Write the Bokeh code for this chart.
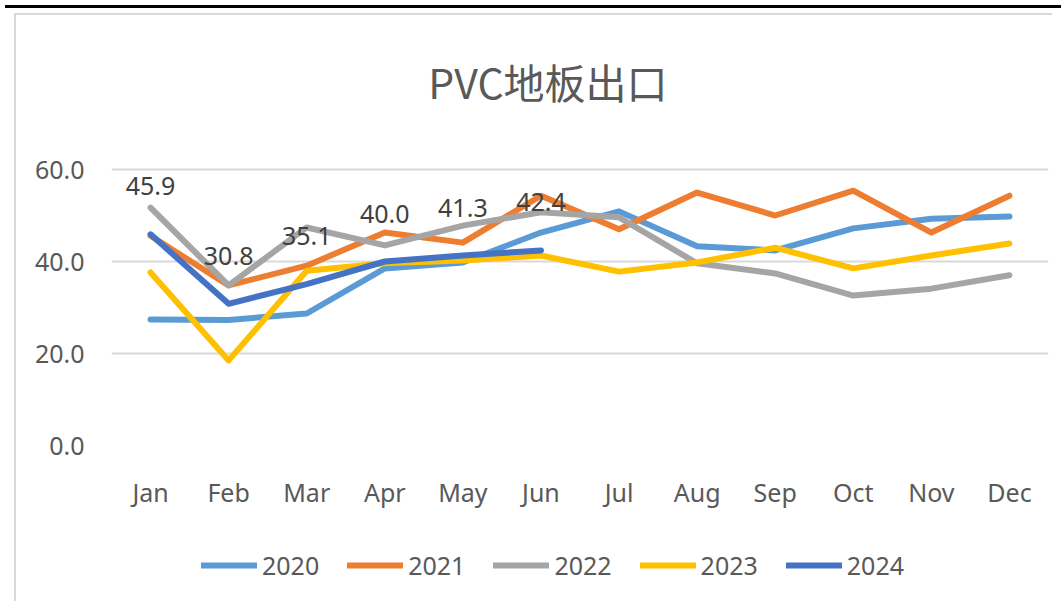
from bokeh.plotting import figure
from bokeh.models import FactorRange, Range1d, Div, FixedTicker, NumeralTickFormatter, ColumnDataSource
from bokeh.layouts import column
from bokeh.core.properties import value
from bokeh.embed import file_html
from bokeh.resources import INLINE

months = ["Jan", "Feb", "Mar", "Apr", "May", "Jun", "Jul", "Aug", "Sep", "Oct", "Nov", "Dec"]
years = ["2020", "2021", "2022", "2023", "2024"]
y2020 = [27.4, 27.3, 28.7, 38.5, 39.8, 46.3, 50.9, 43.3, 42.4, 47.2, 49.3, 49.8]
y2021 = [45.6, 34.8, 39.1, 46.3, 44.1, 54.3, 47.0, 55.0, 50.0, 55.4, 46.3, 54.3]
y2022 = [51.7, 34.8, 47.4, 43.5, 47.8, 50.7, 49.6, 39.6, 37.4, 32.6, 34.1, 37.0]
y2023 = [37.6, 18.5, 38.0, 39.6, 40.2, 41.3, 37.8, 39.8, 43.0, 38.5, 41.3, 43.9]
y2024 = [45.9, 30.8, 35.1, 40.0, 41.3, 42.4]
series = [y2020, y2021, y2022, y2023, y2024]
colors = ["#5B9BD5", "#ED7D31", "#A5A5A5", "#FFC000", "#4472C4"]
y_ticks = [0, 20, 40, 60]
title_text = "PVC地板出口"

FONT = "Noto Sans"
TXT = "#595959"

# main chart: frame extends to the top of the canvas so the title can live inside it
p = figure(x_range=FactorRange(*months, range_padding=0), y_range=Range1d(0, 93.48),
           width=1038, height=502, output_backend="svg", toolbar_location=None,
           min_border_left=95, min_border_right=6, min_border_top=0, min_border_bottom=72)
p.margin = (0, 0, 0, 14)
p.styles = {"border-left": "2px solid #D9D9D9", "border-top": "2px solid #D9D9D9"}
p.outline_line_color = None
p.border_fill_color = "white"

for yr, vals, c in zip(years, series, colors):
    p.line(x=months[:len(vals)], y=vals, line_width=6, line_color=c,
           line_cap="round", line_join="round")

src = ColumnDataSource(dict(x=months[:len(y2024)], y=y2024, t=[f"{v:.1f}" for v in y2024]))
p.text(x="x", y="y", text="t", source=src, y_offset=-48, text_align="center",
       text_baseline="middle", text_font=value(FONT), text_font_size="25px", text_color="#404040")

p.text(x=["Jun"], y=[79.3], text=[title_text], x_offset=7, text_align="center",
       text_baseline="middle", text_font=value("Noto Sans CJK SC"), text_font_size="41px",
       text_color=TXT)

p.xgrid.grid_line_color = None
p.ygrid.grid_line_color = "#D9D9D9"
p.ygrid.grid_line_width = 2
p.yaxis.ticker = FixedTicker(ticks=y_ticks)
p.yaxis.formatter = NumeralTickFormatter(format="0.0")
for ax in (p.xaxis[0], p.yaxis[0]):
    ax.axis_line_color = None
    ax.major_tick_line_color = None
    ax.minor_tick_line_color = None
    ax.major_tick_out = 0
    ax.major_tick_in = 0
    ax.major_label_text_font = FONT
    ax.major_label_text_font_size = "25px"
    ax.major_label_text_color = TXT
p.yaxis.major_label_standoff = 27
p.xaxis.major_label_standoff = 29

# legend strip below the chart (its copies of the series lie outside its visible range)
pl = figure(x_range=FactorRange(*months, range_padding=0), y_range=Range1d(-20, -10),
            width=1038, height=86, output_backend="svg", toolbar_location=None,
            x_axis_type=None, y_axis_type=None, min_border=0)
pl.margin = (0, 0, 0, 14)
pl.styles = {"border-left": "2px solid #D9D9D9"}
pl.outline_line_color = None
pl.xgrid.visible = False
pl.ygrid.visible = False
for yr, vals, c in zip(years, series, colors):
    pl.line(x=months[:len(vals)], y=vals, line_width=6, line_color=c,
            line_cap="round", legend_label=yr)
lg = pl.legend[0]
lg.orientation = "horizontal"
lg.location = (90, 19)
lg.padding = 0
lg.margin = 0
lg.spacing = 28
lg.glyph_width = 56
lg.glyph_height = 20
lg.label_standoff = 5
lg.label_text_font = FONT
lg.label_text_font_size = "25px"
lg.label_text_color = TXT
lg.border_line_color = None
lg.background_fill_alpha = 0

bar = Div(text="", width=1058, height=3, styles={"background-color": "black"})
layout = column(bar, p, pl, spacing=0)

open("out.html", "w").write(file_html(layout, INLINE))
